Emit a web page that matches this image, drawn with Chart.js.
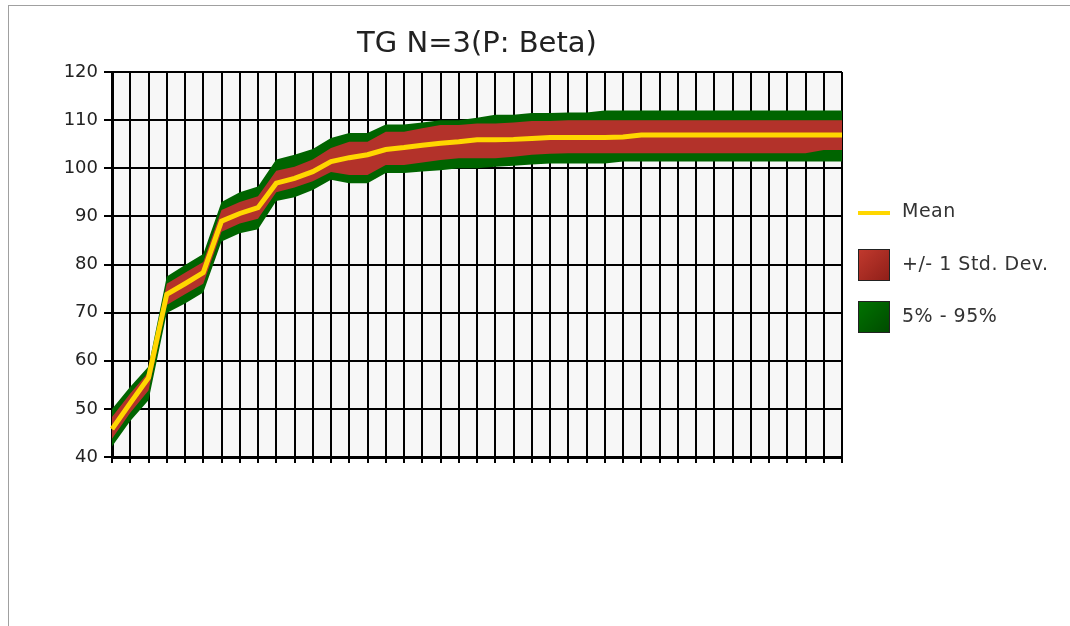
<!DOCTYPE html>
<html>
<head>
<meta charset="utf-8">
<script src="https://cdn.jsdelivr.net/npm/chart.js@4.4.1/dist/chart.umd.min.js"></script>
<style>
  body { margin: 0; background: #fff; }
  #frame { position: absolute; left: 8px; top: 5px; width: 1062px; height: 621px;
           border-top: 1px solid #a0a0a0; border-left: 1px solid #a0a0a0; }
  #mycanvas { position: absolute; left: 0; top: 0; }
</style>
</head>
<body>
<div id="frame"></div>
<canvas id="mycanvas" width="1070" height="626"></canvas>
<script>
// 41 steps, no x labels shown
var steps = [];
for (var s = 0; s <= 40; s++) steps.push('');

var meanVals = [45.8, 51.2, 56.5, 73.8, 76.0, 78.3, 89.0, 90.6, 91.8, 96.9,
	97.9, 99.3, 101.4, 102.2, 102.8, 103.9, 104.3, 104.8, 105.2, 105.5,
	105.9, 105.9, 106.0, 106.2, 106.4, 106.4, 106.4, 106.4, 106.5, 106.9,
	106.9, 106.9, 106.9, 106.9, 106.9, 106.9, 106.9, 106.9, 106.9, 106.9, 106.9];
var sdLow = [43.8, 49.2, 53.8, 71.6, 73.8, 76.0, 86.8, 88.5, 89.5, 95.0,
	96.0, 97.3, 99.2, 98.6, 98.6, 100.7, 100.7, 101.2, 101.7, 102.1,
	102.1, 102.1, 102.4, 102.8, 103.0, 103.1, 103.1, 103.1, 103.1, 103.1,
	103.1, 103.1, 103.1, 103.1, 103.1, 103.1, 103.1, 103.1, 103.1, 103.8, 103.8];
var sdHigh = [48.3, 53.2, 57.6, 76.0, 78.3, 80.5, 91.3, 93.0, 94.2, 99.5,
	100.3, 101.8, 104.2, 105.5, 105.5, 107.6, 107.6, 108.3, 109.0, 109.0,
	109.3, 109.3, 109.5, 109.8, 109.8, 110.0, 110.0, 110.0, 110.0, 110.0,
	110.0, 110.0, 110.0, 110.0, 110.0, 110.0, 110.0, 110.0, 110.0, 110.0, 110.0];
var p5Vals = [42.2, 47.5, 51.8, 69.9, 71.9, 74.2, 84.8, 86.5, 87.3, 93.2,
	94.0, 95.5, 97.6, 96.9, 96.9, 99.0, 99.0, 99.3, 99.6, 100.0,
	100.0, 100.3, 100.5, 100.8, 101.0, 101.0, 101.0, 101.0, 101.4, 101.4,
	101.4, 101.4, 101.4, 101.4, 101.4, 101.4, 101.4, 101.4, 101.4, 101.4, 101.4];
var p95Vals = [50.0, 54.6, 58.8, 77.5, 79.9, 82.2, 93.0, 95.0, 96.2, 101.8,
	102.8, 104.0, 106.3, 107.3, 107.3, 109.1, 109.1, 109.5, 110.0, 110.0,
	110.5, 111.1, 111.1, 111.5, 111.5, 111.6, 111.6, 112.0, 112.0, 112.0,
	112.0, 112.0, 112.0, 112.0, 112.0, 112.0, 112.0, 112.0, 112.0, 112.0, 112.0];

var legendNames = ['Mean', '+/- 1 Std. Dev.', '5% - 95%'];
var titleText = 'TG N=3(P: Beta)';

var plotBg = {
	id: 'plotBg',
	beforeDraw: function(chart) {
		var a = chart.chartArea, c = chart.ctx;
		c.save();
		c.fillStyle = '#f7f7f7';
		c.fillRect(a.left, a.top, a.right - a.left, a.bottom - a.top);
		c.restore();
	}
};

var extras = {
	id: 'extras',
	afterDraw: function(chart) {
		var a = chart.chartArea, c = chart.ctx;
		c.save();
		c.fillStyle = '#222';
		c.font = '29px "DejaVu Sans"';
		c.textAlign = 'center';
		c.textBaseline = 'middle';
		c.fillText(titleText, (a.left + a.right) / 2, 44);

		// legend
		c.textAlign = 'left';
		c.font = '19px "DejaVu Sans"';
		c.letterSpacing = '0.5px';
		c.strokeStyle = '#ffd700';
		c.lineWidth = 4;
		c.beginPath(); c.moveTo(858, 213); c.lineTo(890, 213); c.stroke();
		c.fillStyle = '#333';
		c.fillText(legendNames[0], 902, 212);

		var g = c.createLinearGradient(858, 249, 890, 281);
		g.addColorStop(0, '#c23a2e'); g.addColorStop(1, '#8e1e18');
		c.fillStyle = g;
		c.fillRect(858, 249, 32, 32);
		c.strokeStyle = '#222'; c.lineWidth = 1;
		c.strokeRect(858.5, 249.5, 31, 31);

		g = c.createLinearGradient(858, 301, 890, 333);
		g.addColorStop(0, '#007400'); g.addColorStop(1, '#004a00');
		c.fillStyle = g;
		c.fillRect(858, 301, 32, 32);
		c.strokeRect(858.5, 301.5, 31, 31);

		c.fillStyle = '#333';
		c.fillText(legendNames[1], 902, 265);
		c.fillText(legendNames[2], 902, 317);
		c.restore();
	}
};

var chartdata = {
	labels: steps,
	datasets: [
		{ label: 'Mean', data: meanVals, borderColor: '#ffd700', borderWidth: 5,
		  pointRadius: 0, fill: false, order: 0 },
		{ label: 'sdHigh', data: sdHigh, borderWidth: 0, borderColor: 'rgba(0,0,0,0)',
		  backgroundColor: '#b3322a', pointRadius: 0, fill: '+1', order: 1 },
		{ label: 'sdLow', data: sdLow, borderWidth: 0, borderColor: 'rgba(0,0,0,0)',
		  pointRadius: 0, fill: false, order: 1 },
		{ label: 'p95', data: p95Vals, borderWidth: 0, borderColor: 'rgba(0,0,0,0)',
		  backgroundColor: '#006400', pointRadius: 0, fill: '+1', order: 2 },
		{ label: 'p5', data: p5Vals, borderWidth: 0, borderColor: 'rgba(0,0,0,0)',
		  pointRadius: 0, fill: false, order: 2 }
	]
};

var ctx = document.getElementById('mycanvas');
var LineGraph = new Chart(ctx, {
	type: 'line',
	data: chartdata,
	plugins: [plotBg, extras],
	options: {
		responsive: false,
		animation: false,
		devicePixelRatio: 1,
		layout: { padding: { top: 72, right: 228, left: 0, bottom: 0 } },
		plugins: { legend: { display: false }, title: { display: false }, tooltip: { enabled: false } },
		elements: { line: { tension: 0 } },
		scales: {
			x: {
				z: 1,
				offset: false,
				grid: { color: '#000', lineWidth: 2, tickLength: 6, drawTicks: true },
				border: { display: true, color: '#000', width: 3 },
				ticks: { autoSkip: false, maxRotation: 0, padding: 0, font: { size: 1 } },
				afterFit: function(scale) { scale.height = 169; }
			},
			y: {
				z: 1,
				min: 40, max: 120,
				grid: { color: '#000', lineWidth: 2, tickLength: 8 },
				border: { display: true, color: '#000', width: 3 },
				ticks: { stepSize: 10, color: '#222', padding: 6,
				         font: { family: 'DejaVu Sans', size: 18 } },
				afterFit: function(scale) { scale.width = 112; }
			}
		}
	}
});
</script>
</body>
</html>
